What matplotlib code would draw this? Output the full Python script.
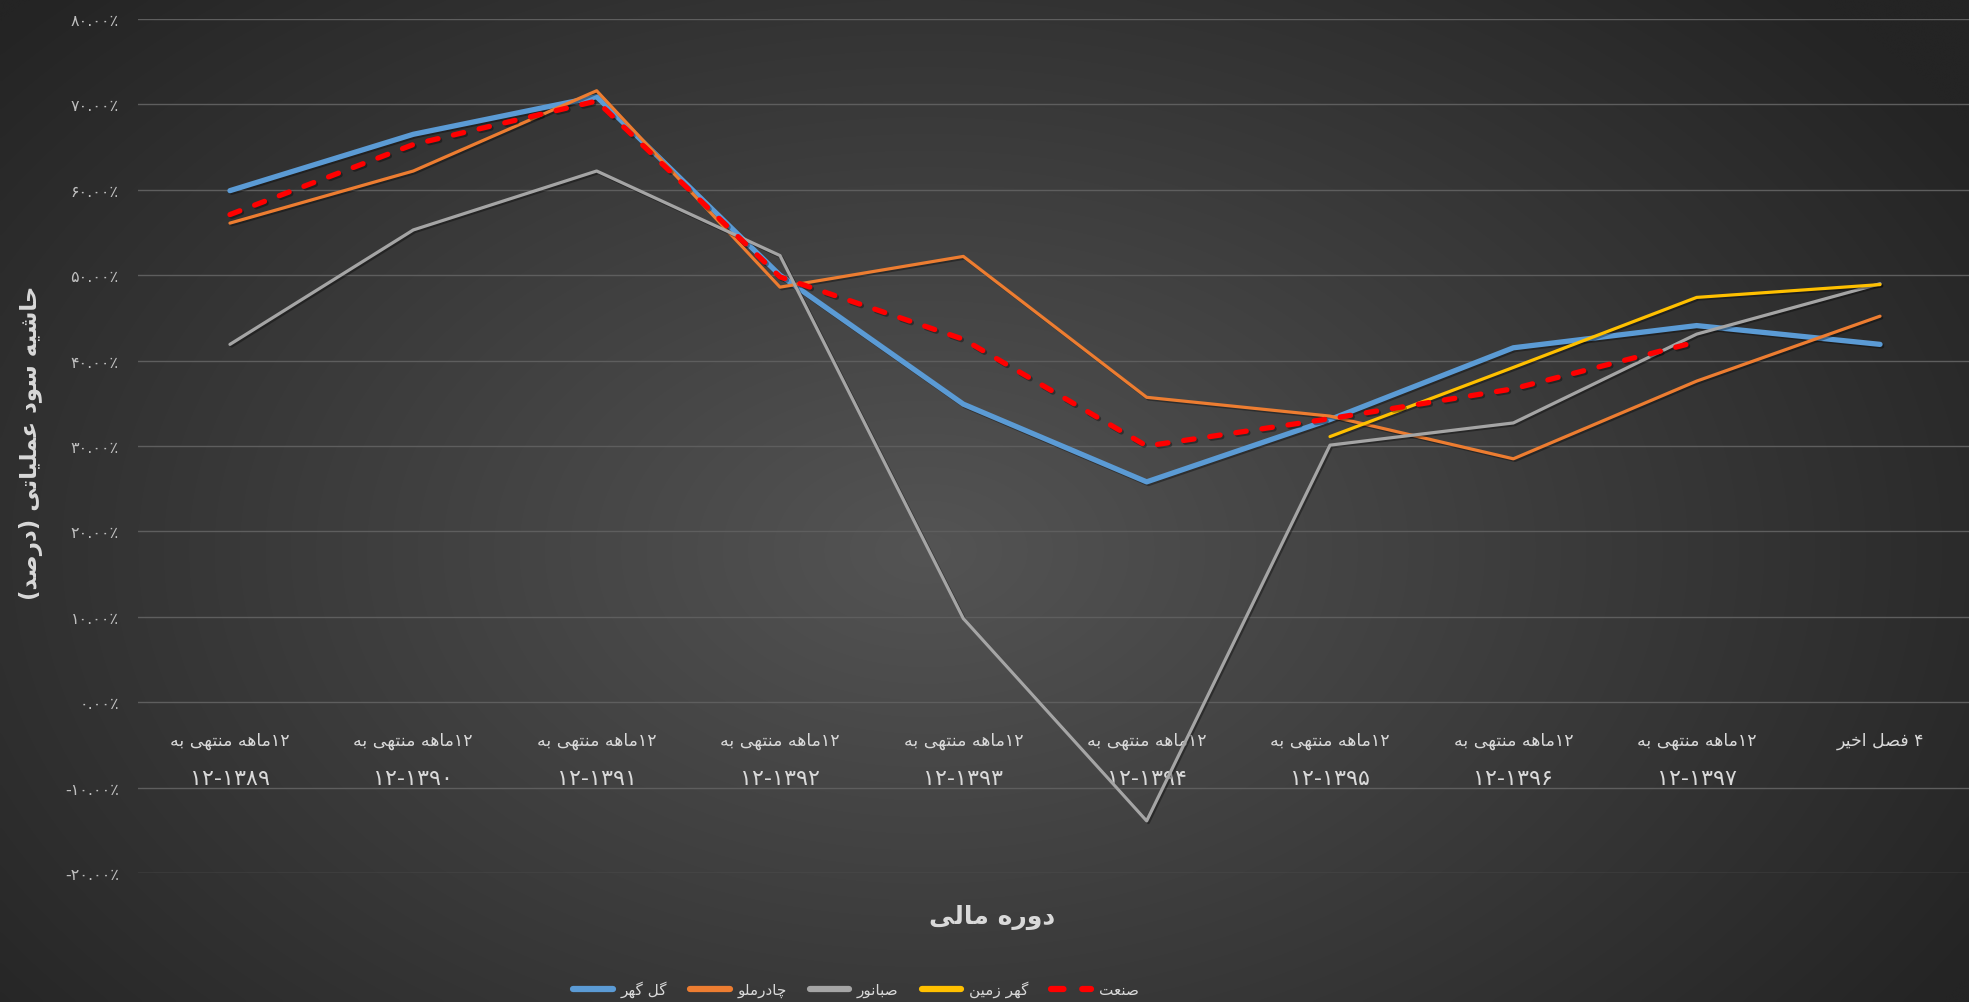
import numpy as np
import matplotlib
matplotlib.use("Agg")
import matplotlib.pyplot as plt
from matplotlib.lines import Line2D
from matplotlib.transforms import blended_transform_factory
import matplotlib.patheffects as pe

plt.rcParams['font.family'] = ['DejaVu Sans']

# ---------------- data ----------------
cat_line1 = ["۱۲ماهه منتهی به"] * 9 + ["۴ فصل اخیر"]
cat_line2 = ["۱۲-۱۳۸۹", "۱۲-۱۳۹۰", "۱۲-۱۳۹۱", "۱۲-۱۳۹۲", "۱۲-۱۳۹۳",
             "۱۲-۱۳۹۴", "۱۲-۱۳۹۵", "۱۲-۱۳۹۶", "۱۲-۱۳۹۷", ""]
nan = np.nan
gol_gohar = [59.9, 66.5, 70.9, 50.0, 34.9, 25.8, 33.1, 41.5, 44.1, 41.9]
chadormalu = [56.1, 62.2, 71.6, 48.6, 52.2, 35.7, 33.5, 28.5, 37.6, 45.2]
sabanur = [41.9, 55.3, 62.2, 52.3, 9.8, -13.9, 30.1, 32.7, 43.1, 49.0]
gohar_zamin = [nan, nan, nan, nan, nan, nan, 31.1, 39.2, 47.4, 48.9]
sanat = [57.1, 65.3, 70.4, 49.8, 42.5, 30.0, 33.2, 36.7, 42.2, nan]
series_names = ["گل گهر", "چادرملو", "صبانور", "گهر زمین", "صنعت"]
y_title = "حاشیه سود عملیاتی (درصد)"
x_title = "دوره مالی"
y_ticks = [-20, -10, 0, 10, 20, 30, 40, 50, 60, 70, 80]

# ---------------- minimal Persian shaping ----------------
FORMS = {
    '\u0627': ('\uFE8D', '\uFE8E', None, None),
    '\u0628': ('\uFE8F', '\uFE90', '\uFE91', '\uFE92'),
    '\u062A': ('\uFE95', '\uFE96', '\uFE97', '\uFE98'),
    '\u062D': ('\uFEA1', '\uFEA2', '\uFEA3', '\uFEA4'),
    '\u062E': ('\uFEA5', '\uFEA6', '\uFEA7', '\uFEA8'),
    '\u062F': ('\uFEA9', '\uFEAA', None, None),
    '\u0631': ('\uFEAD', '\uFEAE', None, None),
    '\u0632': ('\uFEAF', '\uFEB0', None, None),
    '\u0633': ('\uFEB1', '\uFEB2', '\uFEB3', '\uFEB4'),
    '\u0634': ('\uFEB5', '\uFEB6', '\uFEB7', '\uFEB8'),
    '\u0635': ('\uFEB9', '\uFEBA', '\uFEBB', '\uFEBC'),
    '\u0639': ('\uFEC9', '\uFECA', '\uFECB', '\uFECC'),
    '\u0641': ('\uFED1', '\uFED2', '\uFED3', '\uFED4'),
    '\u0644': ('\uFEDD', '\uFEDE', '\uFEDF', '\uFEE0'),
    '\u0645': ('\uFEE1', '\uFEE2', '\uFEE3', '\uFEE4'),
    '\u0646': ('\uFEE5', '\uFEE6', '\uFEE7', '\uFEE8'),
    '\u0647': ('\uFEE9', '\uFEEA', '\uFEEB', '\uFEEC'),
    '\u0648': ('\uFEED', '\uFEEE', None, None),
    '\u06CC': ('\uFBFC', '\uFBFD', '\uFBFE', '\uFBFF'),
    '\u06AF': ('\uFB92', '\uFB93', '\uFB94', '\uFB95'),
    '\u0686': ('\uFB7A', '\uFB7B', '\uFB7C', '\uFB7D'),
}
DIGITS = set("۰۱۲۳۴۵۶۷۸۹0123456789.٪%-")


def fa(text):
    out = []
    n = len(text)
    for i, c in enumerate(text):
        if c not in FORMS:
            out.append(c)
            continue
        prev = text[i - 1] if i > 0 else ''
        nxt = text[i + 1] if i + 1 < n else ''
        cp = prev in FORMS and FORMS[prev][2] is not None
        cn = FORMS[c][2] is not None and nxt in FORMS
        iso, fin, ini, med = FORMS[c]
        if cp and cn:
            out.append(med)
        elif cp:
            out.append(fin)
        elif cn:
            out.append(ini)
        else:
            out.append(iso)
    rev = ''.join(out)[::-1]
    res, buf = [], []
    for ch in rev:
        if ch in DIGITS:
            buf.append(ch)
        else:
            if buf:
                res.append(''.join(buf[::-1]))
                buf = []
            res.append({'(': ')', ')': '('}.get(ch, ch))
    if buf:
        res.append(''.join(buf[::-1]))
    return ''.join(res)


def fa_digits(s):
    return s.translate(str.maketrans("0123456789%", "۰۱۲۳۴۵۶۷۸۹٪"))


# ---------------- figure ----------------
W, H = 1969, 1003
fig = plt.figure(figsize=(W / 100, H / 100), dpi=100)

bg = fig.add_axes([0, 0, 1, 1], zorder=-10)
yy, xx = np.mgrid[0:1:300j, 0:1:600j]
d = np.sqrt(((xx - 0.47) / 0.62) ** 2 + ((yy - 0.55) / 0.8) ** 2)
d = np.clip(d, 0, 1)
val = (0x54 * (1 - d) + 0x24 * d) / 255.0
img = np.dstack([val, val, val])
bg.imshow(img, aspect='auto', extent=[0, 1, 0, 1], origin='upper', interpolation='bicubic')
bg.set_axis_off()

left_px = 138.3
ax = fig.add_axes([left_px / W, 1 - 874 / H, (1971.7 - left_px) / W, (874 - 20) / H])
ax.set_facecolor('none')
x = np.arange(len(cat_line1))

styles = [
    dict(color='#5B9BD5', lw=3.8),
    dict(color='#ED7D31', lw=2.3),
    dict(color='#A5A5A5', lw=2.3),
    dict(color='#FFC000', lw=2.3),
    dict(color='#FF0000', lw=3.8, dashes=(2.0, 3.0), dash_capstyle='round'),
]
shadow = [pe.SimpleLineShadow(offset=(1.2, -1.2), shadow_color='black', alpha=0.35), pe.Normal()]
data = [gol_gohar, chadormalu, sabanur, gohar_zamin, sanat]
for k, (vals, st) in enumerate(zip(data, styles)):
    ax.plot(x, vals, solid_capstyle='round', solid_joinstyle='round', zorder=3 + k,
            path_effects=shadow, **st)

ax.set_xlim(-0.5, 9.5)
ax.set_ylim(-20, 80)
ax.set_yticks(y_ticks)
ax.set_yticklabels([fa_digits(f"{v:.2f}%") for v in y_ticks])
ax.yaxis.grid(True, color='#5E5E5E', lw=1.0)
ax.set_axisbelow(True)
ax.tick_params(axis='y', length=0, pad=14, labelsize=11.5, labelcolor='#BFBFBF')
ax.set_xticks([])
for s in ax.spines.values():
    s.set_visible(False)

tr = blended_transform_factory(ax.transData, fig.transFigure)
for i in range(len(cat_line1)):
    ax.text(x[i], 1 - 741 / H, fa(cat_line1[i]), transform=tr, ha='center', va='center',
            fontsize=12.5, color='#D9D9D9', clip_on=False)
    if cat_line2[i]:
        ax.text(x[i], 1 - 779 / H, cat_line2[i], transform=tr, ha='center', va='center',
                fontsize=16, color='#D9D9D9', clip_on=False)

fig.text(31 / W, 1 - 443 / H, fa(y_title), rotation=90, ha='center', va='center',
         fontsize=16.5, fontweight='bold', color='#D9D9D9')
fig.text(992 / W, 1 - 917 / H, fa(x_title), ha='center', va='center',
         fontsize=18, fontweight='bold', color='#D9D9D9')

handles = []
for st in styles:
    kw = dict(st)
    kw['lw'] = 4.5
    handles.append(Line2D([0], [0], solid_capstyle='round', **kw))
leg = fig.legend(handles, [fa(n) for n in series_names], loc='center',
                 bbox_to_anchor=(856 / W, 1 - 990 / H), ncol=5, frameon=False,
                 fontsize=11, labelcolor='#D9D9D9', handlelength=2.6,
                 columnspacing=1.5, handletextpad=0.5)

fig.savefig("out.png", dpi=100)
